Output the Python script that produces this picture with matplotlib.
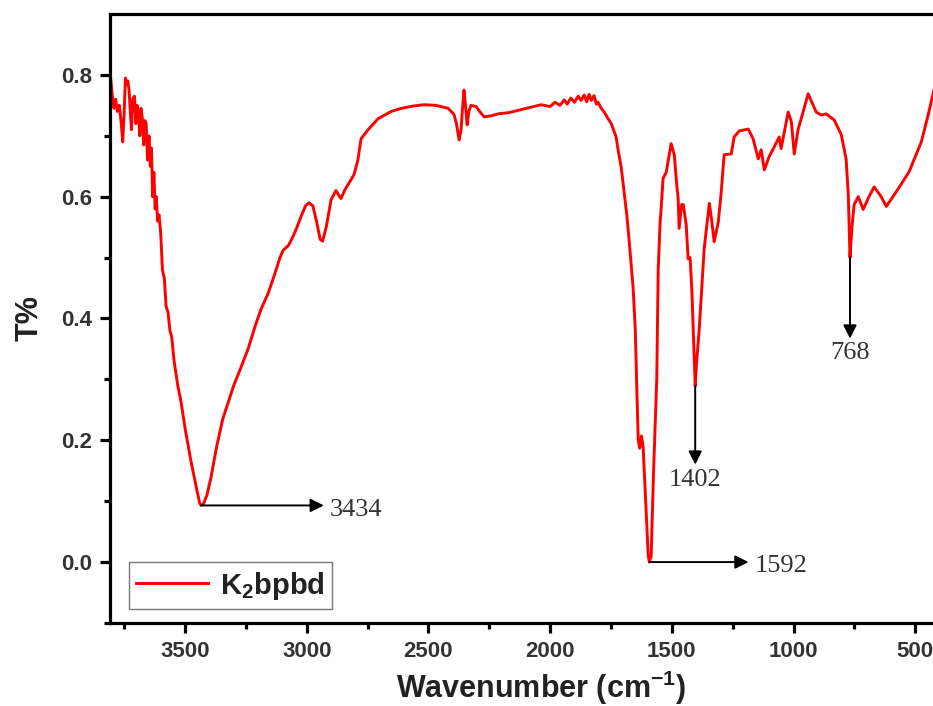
import numpy as np
import matplotlib
matplotlib.use("Agg")
import matplotlib.pyplot as plt

plt.rcParams['font.family'] = ['Liberation Sans', 'DejaVu Sans']
plt.rcParams['mathtext.fontset'] = 'custom'
plt.rcParams['mathtext.rm'] = 'Liberation Sans:bold'
plt.rcParams['mathtext.it'] = 'Liberation Sans:bold'
plt.rcParams['mathtext.bf'] = 'Liberation Sans:bold'
plt.rcParams['mathtext.default'] = 'rm'

# IR spectrum (wavenumber, transmittance)
wavenumber = [3808, 3800, 3792, 3785, 3778, 3770, 3762, 3756, 3750, 3745,
              3740, 3735, 3730, 3725, 3720, 3715, 3708, 3702, 3697, 3692,
              3686, 3681, 3676, 3670, 3665, 3660, 3654, 3648, 3643, 3638,
              3633, 3628, 3623, 3618, 3613, 3607, 3600, 3593, 3585, 3578,
              3570, 3562, 3555, 3545, 3530, 3517, 3500, 3476, 3455, 3440,
              3434, 3425, 3410, 3393, 3370, 3345, 3323, 3300, 3270, 3241,
              3210, 3188, 3160, 3134, 3110, 3097, 3075, 3056, 3040, 3023,
              3005, 2991, 2975, 2960, 2945, 2935, 2920, 2900, 2880, 2865,
              2859, 2845, 2830, 2806, 2790, 2777, 2748, 2707, 2653, 2612,
              2560, 2518, 2470, 2419, 2395, 2385, 2374, 2366, 2360, 2354,
              2348, 2341, 2334, 2325, 2304, 2290, 2271, 2240, 2214, 2170,
              2119, 2080, 2037, 2000, 1980, 1960, 1942, 1930, 1915, 1900,
              1885, 1873, 1860, 1850, 1840, 1831, 1820, 1810, 1803, 1790,
              1778, 1762, 1749, 1740, 1729, 1720, 1708, 1696, 1685, 1675,
              1659, 1650, 1645, 1638, 1632, 1625, 1618, 1605, 1597, 1592,
              1585, 1575, 1562, 1556, 1548, 1544, 1536, 1523, 1510, 1503,
              1490, 1480, 1474, 1470, 1460, 1453, 1441, 1433, 1425, 1418,
              1412, 1404, 1398, 1388, 1367, 1346, 1336, 1326, 1309, 1297,
              1285, 1256, 1244, 1223, 1186, 1166, 1145, 1133, 1120, 1100,
              1079, 1059, 1051, 1022, 1009, 997, 981, 960, 940, 907,
              886, 866, 833, 804, 784, 775, 768, 760, 751, 734,
              714, 690, 669, 640, 619, 595, 570, 525, 475, 447,
              422]
transmittance = [0.805, 0.77, 0.745, 0.76, 0.74, 0.75, 0.72, 0.69, 0.74, 0.795,
                 0.785, 0.79, 0.775, 0.74, 0.71, 0.76, 0.765, 0.72, 0.75, 0.74,
                 0.70, 0.745, 0.73, 0.685, 0.725, 0.72, 0.66, 0.70, 0.65, 0.68,
                 0.60, 0.64, 0.58, 0.60, 0.56, 0.57, 0.54, 0.48, 0.465, 0.42,
                 0.41, 0.38, 0.37, 0.33, 0.29, 0.264, 0.22, 0.166, 0.125, 0.097,
                 0.093, 0.095, 0.11, 0.14, 0.19, 0.235, 0.262, 0.29, 0.32, 0.35,
                 0.39, 0.415, 0.44, 0.47, 0.50, 0.512, 0.52, 0.535, 0.55, 0.568,
                 0.585, 0.59, 0.585, 0.56, 0.53, 0.527, 0.55, 0.595, 0.61, 0.60,
                 0.597, 0.61, 0.62, 0.636, 0.66, 0.695, 0.71, 0.728, 0.74, 0.745,
                 0.749, 0.751, 0.75, 0.745, 0.735, 0.72, 0.693, 0.71, 0.745, 0.775,
                 0.75, 0.718, 0.74, 0.75, 0.748, 0.74, 0.731, 0.733, 0.736, 0.738,
                 0.743, 0.747, 0.751, 0.748, 0.755, 0.75, 0.759, 0.752, 0.762, 0.755,
                 0.765, 0.758, 0.767, 0.756, 0.768, 0.758, 0.766, 0.752, 0.755, 0.745,
                 0.739, 0.728, 0.72, 0.71, 0.698, 0.675, 0.648, 0.608, 0.57, 0.526,
                 0.45, 0.38, 0.30, 0.20, 0.187, 0.207, 0.19, 0.08, 0.01, 0.0,
                 0.01, 0.15, 0.30, 0.48, 0.56, 0.58, 0.63, 0.64, 0.67, 0.687,
                 0.669, 0.62, 0.597, 0.548, 0.587, 0.587, 0.554, 0.498, 0.50, 0.449,
                 0.379, 0.289, 0.33, 0.379, 0.515, 0.589, 0.56, 0.526, 0.559, 0.608,
                 0.669, 0.67, 0.698, 0.708, 0.711, 0.695, 0.662, 0.677, 0.644, 0.666,
                 0.682, 0.698, 0.679, 0.739, 0.723, 0.67, 0.711, 0.74, 0.769, 0.739,
                 0.734, 0.736, 0.726, 0.702, 0.662, 0.603, 0.50, 0.55, 0.587, 0.60,
                 0.579, 0.60, 0.616, 0.60, 0.584, 0.598, 0.613, 0.641, 0.69, 0.734,
                 0.777]

# peak labels: (label, start point, arrow tip, text position, alignment)
peak_labels = ['3434', '1592', '1402', '768']
peak_start = [(3434, 0.093), (1592, 0.0), (1404, 0.289), (768, 0.50)]
peak_tip = [(2930, 0.093), (1185, 0.0), (1404, 0.16), (768, 0.367)]
peak_text = [(2905, 0.086), (1160, -0.006), (1404, 0.135), (768, 0.343)]
peak_ha = ['left', 'left', 'center', 'center']

fig = plt.figure(figsize=(9.33, 7.06), dpi=100)
# the original figure is cut off on the right, so the axes run past the edge
ax = fig.add_axes([0.118, 0.1176, 0.924, 0.8626])

ax.plot(wavenumber, transmittance, color='red', lw=2.1, label='K$_2$bpbd')

for lab, s, t, p, ha in zip(peak_labels, peak_start, peak_tip, peak_text, peak_ha):
    ax.annotate('', xy=t, xytext=s,
                arrowprops=dict(arrowstyle='-|>', color='black', lw=1.4,
                                mutation_scale=20, shrinkA=0, shrinkB=0))
    ax.text(p[0], p[1], lab, ha=ha, va='center', fontsize=19,
            family='Liberation Serif', color='#333333')

ax.set_xlim(3808, 266)
ax.set_ylim(-0.1, 0.9)
ax.set_xticks([3500, 3000, 2500, 2000, 1500, 1000, 500])
ax.set_xticks(np.arange(3750, 260, -500), minor=True)
ax.set_yticks([0.0, 0.2, 0.4, 0.6, 0.8])
ax.set_yticks([-0.1, 0.1, 0.3, 0.5, 0.7], minor=True)
ax.yaxis.set_major_formatter(matplotlib.ticker.FormatStrFormatter('%.1f'))

for sp in ['left', 'bottom', 'top']:
    ax.spines[sp].set_linewidth(2.3)
ax.spines['right'].set_visible(False)
ax.tick_params(which='major', direction='out', length=7, width=2.3,
               labelsize=16, pad=6)
ax.tick_params(which='minor', direction='out', length=4, width=2.3)
ax.tick_params(top=False, right=False, which='both')
for lbl in ax.get_xticklabels() + ax.get_yticklabels():
    lbl.set_fontweight('bold')
    lbl.set_color('#333333')

ax.set_xlabel('Wavenumber (cm$^{-1}$)', fontsize=22, fontweight='bold',
              labelpad=5, color='#222222')
ax.set_ylabel('T%', fontsize=22, fontweight='bold', labelpad=12, color='#222222')

leg = ax.legend(loc='lower left', bbox_to_anchor=(19 / 862, 14 / 609),
                fontsize=21, frameon=True, fancybox=False, borderaxespad=0,
                handlelength=2.45, borderpad=0.25, handletextpad=0.4)
leg.get_frame().set_edgecolor('#555555')
leg.get_frame().set_linewidth(1.0)
for t in leg.get_texts():
    t.set_fontweight('bold')
    t.set_color('#222222')

fig.savefig('out.png', dpi=100)
